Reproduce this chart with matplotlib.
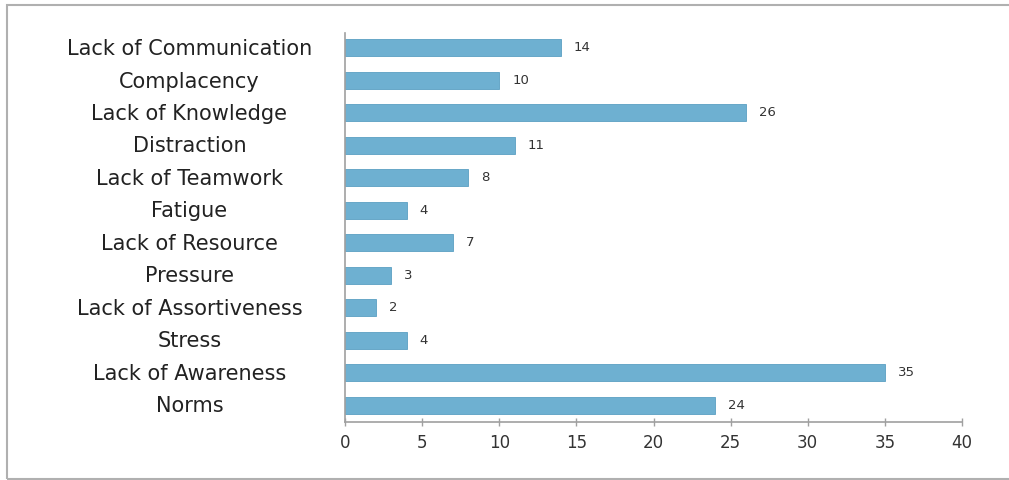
import matplotlib
matplotlib.use("Agg")
import matplotlib.pyplot as plt
from matplotlib.patches import Rectangle

categories = ["Lack of Communication", "Complacency", "Lack of Knowledge", "Distraction",
              "Lack of Teamwork", "Fatigue", "Lack of Resource", "Pressure",
              "Lack of Assortiveness", "Stress", "Lack of Awareness", "Norms"]
counts = [14, 10, 26, 11, 8, 4, 7, 3, 2, 4, 35, 24]
x_ticks = [0, 5, 10, 15, 20, 25, 30, 35, 40]

bar_color = "#6eb0d1"
text_color = "#333333"
axis_color = "#a0a0a0"

fig = plt.figure(figsize=(10.09, 4.8), dpi=100)
ax = fig.add_axes([345 / 1009, 1 - 422 / 480, (962 - 345) / 1009, (422 - 33) / 480])

# outer frame (grey box, right edge runs off the picture)
fig.patches.append(Rectangle((7 / 1009, 1 / 480), 1.1, 474 / 480, transform=fig.transFigure,
                             fill=False, edgecolor="#b0b0b0", linewidth=1.5))

y = list(range(len(categories)))
ax.barh(y, counts, height=0.52, color=bar_color, edgecolor="#5a9fc2", linewidth=0.6)

for yi, v in zip(y, counts):
    ax.text(v + 0.85, yi, str(v), va="center", ha="left", fontsize=9.5, color=text_color)

ax.set_xlim(0, 40)
ax.set_ylim(len(categories) - 1 + 0.52, -0.46)
ax.set_xticks(x_ticks)
ax.set_xticklabels([str(t) for t in x_ticks], fontsize=12, color=text_color)
ax.set_yticks(y)
ax.set_yticklabels(categories, fontsize=15, color="#222222")
for lbl in ax.get_yticklabels():
    lbl.set_ha("center")
    lbl.set_va("bottom")

ax.tick_params(axis="y", length=0, pad=112)
ax.tick_params(axis="x", direction="inout", length=6, width=1, color=axis_color, pad=6)

# nudge the category labels a bit above the bar centre, like the original
import matplotlib.transforms as mtransforms
offset = mtransforms.ScaledTranslation(0, -8 / 72, fig.dpi_scale_trans)
for lbl in ax.get_yticklabels():
    lbl.set_transform(lbl.get_transform() + offset)

for side in ["top", "right"]:
    ax.spines[side].set_visible(False)
ax.spines["left"].set_color(axis_color)
ax.spines["bottom"].set_color(axis_color)
ax.spines["left"].set_linewidth(1.2)
ax.spines["bottom"].set_linewidth(1.2)

fig.savefig("out.png", dpi=100)
